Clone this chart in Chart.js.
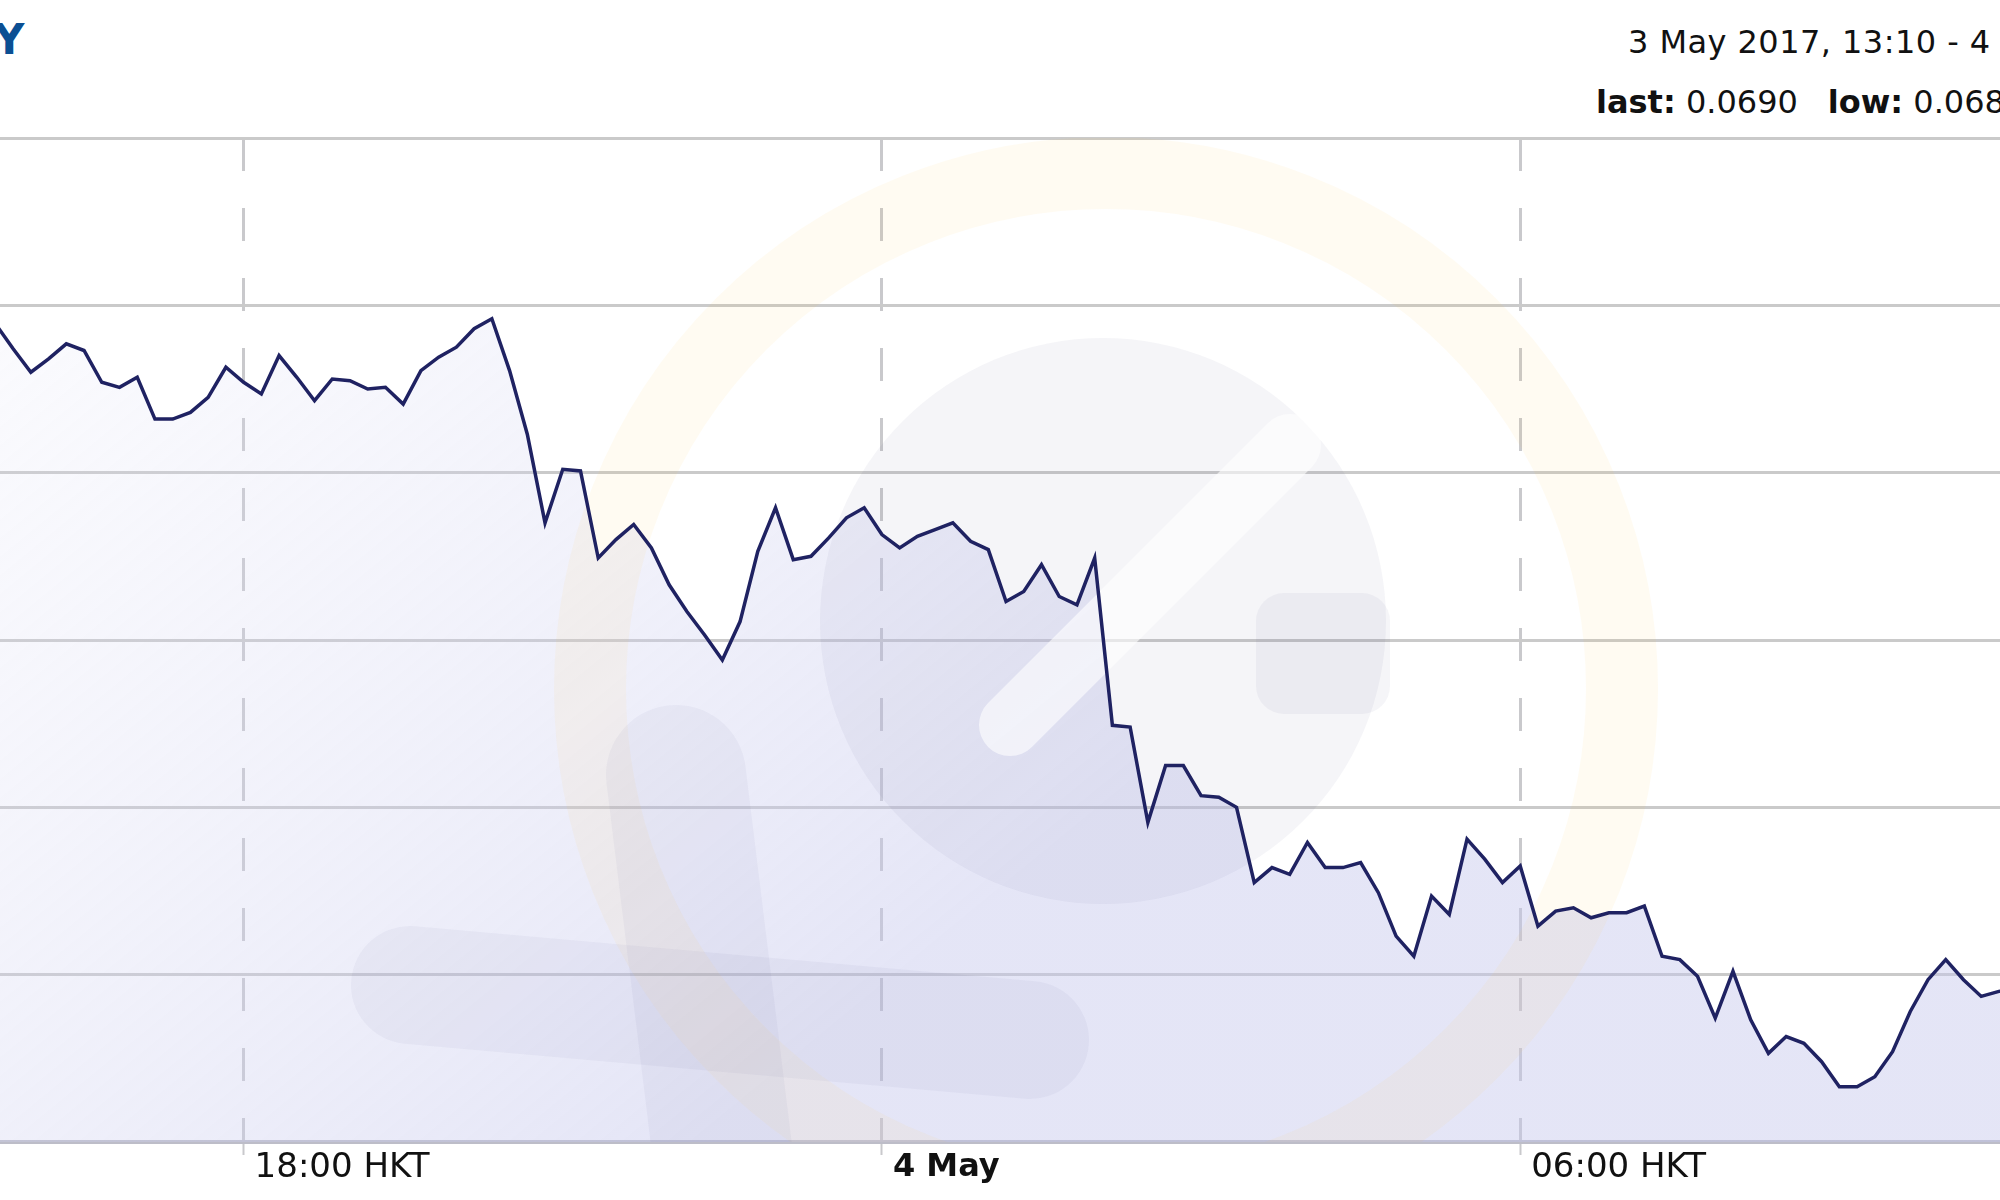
<!DOCTYPE html>
<html>
<head>
<meta charset="utf-8">
<script src="https://cdn.jsdelivr.net/npm/chart.js@4.4.1/dist/chart.umd.min.js"></script>
<style>
  body { margin: 0; width: 2000px; height: 1200px; overflow: hidden; background: #fff; position: relative; font-family: 'DejaVu Sans', sans-serif; }
  #chart { position: absolute; left: 0; top: 0; }
  .txt { position: absolute; white-space: nowrap; line-height: 1; color: #111; }
  #title { left: -6px; top: 19px; font-size: 42px; font-weight: bold; color: #0b4f93; }
  #range { left: 1628px; top: 26px; font-size: 32px; letter-spacing: 0.45px; }
  #stats { left: 1596px; top: 86px; font-size: 32px; }
  #stats .gap { display: inline-block; width: 30px; }
</style>
</head>
<body>
<div id="title" class="txt">Y</div>
<div id="range" class="txt">3 May 2017, 13:10 - 4 May 2017, 13:10</div>
<div id="stats" class="txt"><b>last:</b> 0.0690<span class="gap"></span><b>low:</b> 0.0689</div>
<canvas id="chart" width="2000" height="1200"></canvas>

<script>
// 10 minute quotes, 3 May 15:40 -> 4 May 10:40 (HKT)
const times = [
  '15:40', '15:50',
  '16:00', '16:10', '16:20', '16:30', '16:40', '16:50',
  '17:00', '17:10', '17:20', '17:30', '17:40', '17:50',
  '18:00', '18:10', '18:20', '18:30', '18:40', '18:50',
  '19:00', '19:10', '19:20', '19:30', '19:40', '19:50',
  '20:00', '20:10', '20:20', '20:30', '20:40', '20:50',
  '21:00', '21:10', '21:20', '21:30', '21:40', '21:50',
  '22:00', '22:10', '22:20', '22:30', '22:40', '22:50',
  '23:00', '23:10', '23:20', '23:30', '23:40', '23:50',
  '00:00', '00:10', '00:20', '00:30', '00:40', '00:50',
  '01:00', '01:10', '01:20', '01:30', '01:40', '01:50',
  '02:00', '02:10', '02:20', '02:30', '02:40', '02:50',
  '03:00', '03:10', '03:20', '03:30', '03:40', '03:50',
  '04:00', '04:10', '04:20', '04:30', '04:40', '04:50',
  '05:00', '05:10', '05:20', '05:30', '05:40', '05:50',
  '06:00', '06:10', '06:20', '06:30', '06:40', '06:50',
  '07:00', '07:10', '07:20', '07:30', '07:40', '07:50',
  '08:00', '08:10', '08:20', '08:30', '08:40', '08:50',
  '09:00', '09:10', '09:20', '09:30', '09:40', '09:50',
  '10:00', '10:10', '10:20', '10:30', '10:40'
];

const rates = [
  0.069389, 0.069374,
  0.069360, 0.069368, 0.069377, 0.069373, 0.069354, 0.069351,
  0.069357, 0.069332, 0.069332, 0.069336, 0.069345, 0.069363,
  0.069354, 0.069347, 0.069370, 0.069357, 0.069343, 0.069356,
  0.069355, 0.069350, 0.069351, 0.069341, 0.069361, 0.069369,
  0.069375, 0.069386, 0.069392, 0.069361, 0.069323, 0.069270,
  0.069302, 0.069301, 0.069249, 0.069260, 0.069269, 0.069255,
  0.069233, 0.069217, 0.069203, 0.069188, 0.069211, 0.069253,
  0.069279, 0.069248, 0.069250, 0.069261, 0.069273, 0.069279,
  0.069263, 0.069255, 0.069262, 0.069266, 0.069270, 0.069259,
  0.069254, 0.069223, 0.069229, 0.069245, 0.069226, 0.069221,
  0.069249, 0.069149, 0.069148, 0.069091, 0.069125, 0.069125,
  0.069107, 0.069106, 0.069100, 0.069055, 0.069064, 0.069060,
  0.069079, 0.069064, 0.069064, 0.069067, 0.069049, 0.069023,
  0.069011, 0.069047, 0.069036, 0.069081, 0.069069, 0.069055,
  0.069065, 0.069029, 0.069038, 0.069040, 0.069034, 0.069037,
  0.069037, 0.069041, 0.069011, 0.069009, 0.068999, 0.068974,
  0.069002, 0.068973, 0.068953, 0.068963, 0.068959, 0.068948,
  0.068933, 0.068933, 0.068939, 0.068954, 0.068978, 0.068997,
  0.069009, 0.068997, 0.068987, 0.068990, 0.068992
];

// x axis in minutes from 3 May 00:00 HKT
const tickMinutes = [1080, 1440, 1800];
const tickLabels = ['18:00 HKT', '4 May', '06:00 HKT'];
const tickBold = [false, true, false];
const rateTicks = [0.0689, 0.0690, 0.0691, 0.0692, 0.0693, 0.0694, 0.0695];
const viewStart = 942.6;   // the screenshot is cropped on both sides
const viewEnd = 2070.6;

let dayShift = 0, prevMins = -1;
const points = times.map((t, i) => {
  const [h, m] = t.split(':').map(Number);
  const mins = h * 60 + m;
  if (mins < prevMins) dayShift += 1440;
  prevMins = mins;
  return { x: mins + dayShift, y: rates[i] };
});

// faint logo behind the line (ring, "e" disc and cross)
const watermark = {
  id: 'watermark',
  beforeDatasetDraw(chart) {
    const { ctx, chartArea: a } = chart;
    ctx.save();
    ctx.beginPath();
    ctx.rect(a.left, a.top, a.right - a.left, a.bottom - a.top);
    ctx.clip();

    ctx.strokeStyle = 'rgba(255, 196, 70, 0.07)';
    ctx.lineWidth = 72;
    ctx.beginPath();
    ctx.arc(1106, 689, 516, 0, Math.PI * 2);
    ctx.stroke();

    ctx.fillStyle = 'rgba(70, 72, 130, 0.055)';
    ctx.beginPath();
    ctx.arc(1103, 621, 283, 0, Math.PI * 2);
    ctx.fill();
    // tail of the "e"
    ctx.beginPath();
    ctx.roundRect(1256, 593, 134, 121, 28);
    ctx.fill();

    // slash through the "e"
    ctx.strokeStyle = 'rgba(255, 255, 255, 0.6)';
    ctx.lineCap = 'round';
    ctx.lineWidth = 62;
    ctx.beginPath();
    ctx.moveTo(1290, 445);
    ctx.lineTo(1010, 725);
    ctx.stroke();

    ctx.strokeStyle = 'rgba(70, 72, 130, 0.05)';
    ctx.lineWidth = 140;
    ctx.beginPath();
    ctx.moveTo(676, 775);
    ctx.lineTo(727, 1190);
    ctx.stroke();
    ctx.lineWidth = 118;
    ctx.beginPath();
    ctx.moveTo(410, 985);
    ctx.lineTo(1030, 1040);
    ctx.stroke();
    ctx.restore();
  }
};

const ctx = document.getElementById('chart').getContext('2d');

const chart = new Chart(ctx, {
  type: 'line',
  data: {
    datasets: [{
      data: points,
      borderColor: '#1f2262',
      borderWidth: 3.5,
      pointRadius: 0,
      tension: 0,
      fill: 'start',
      backgroundColor: function(c) {
        const a = c.chart.chartArea;
        if (!a) return 'rgba(0,0,0,0)';
        const g = c.chart.ctx.createLinearGradient(0, a.top + 150, 700, a.bottom);
        g.addColorStop(0, 'rgba(225, 226, 246, 0.15)');
        g.addColorStop(1, 'rgba(196, 198, 236, 0.45)');
        return g;
      }
    }]
  },
  options: {
    responsive: false,
    animation: false,
    layout: { padding: { top: 138, left: 0, right: 0, bottom: 0 } },
    plugins: {
      legend: { display: false },
      tooltip: { enabled: false }
    },
    scales: {
      x: {
        type: 'linear',
        min: viewStart,
        max: viewEnd,
        afterBuildTicks: s => { s.ticks = tickMinutes.map(v => ({ value: v })); },
        afterFit: s => { s.height = 58; },
        grid: {
          color: '#c9c9cc',
          lineWidth: 3,
          tickLength: 13,
          tickBorderDash: [],
          tickColor: '#c9c9cc',
          tickWidth: 2
        },
        // in v4 the dash of the grid lines lives on border
        border: { color: '#bdbdc8', width: 4, dash: [33, 37] },
        ticks: {
          autoSkip: false,
          maxRotation: 0,
          align: 'start',
          labelOffset: 11,
          padding: -7,
          color: '#111',
          font: c => ({
            family: 'DejaVu Sans',
            size: tickBold[c.index] ? 32 : 34,
            weight: tickBold[c.index] ? 'bold' : 'normal'
          }),
          callback: (value, index) => tickLabels[index]
        }
      },
      y: {
        min: rateTicks[0],
        max: rateTicks[rateTicks.length - 1],
        afterBuildTicks: s => { s.ticks = rateTicks.map(v => ({ value: v })); },
        ticks: { display: false },
        grid: { color: '#cacaca', lineWidth: 3, drawTicks: false },
        border: { display: false }
      }
    }
  },
  plugins: [watermark]
});
</script>
</body>
</html>
